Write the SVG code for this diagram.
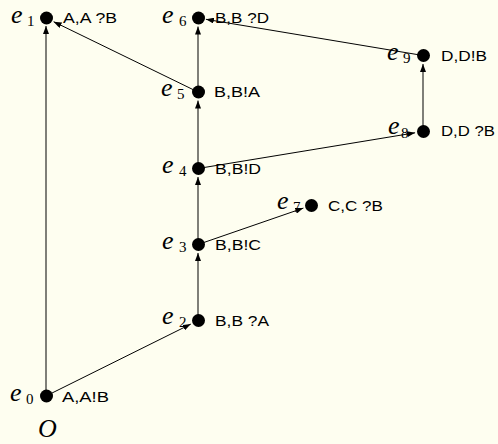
<svg xmlns="http://www.w3.org/2000/svg" width="498" height="444" viewBox="0 0 498 444">
  <defs>
    <marker id="arrow" markerUnits="userSpaceOnUse" markerWidth="8" markerHeight="6" refX="8" refY="3" orient="auto">
      <path d="M0,0 L8,3 L0,6 Z" fill="#000"/>
    </marker>
    <style>
      .edge { stroke: #000; stroke-width: 1; fill: none; marker-end: url(#arrow); }
      .dot { fill: #000; }
      .lbl { font-family: "Liberation Sans", Arial, sans-serif; font-size: 15px; fill: #000; }
      .ev { font-family: "Liberation Serif", "Times New Roman", serif; font-style: italic; font-size: 26px; fill: #000; }
      .sub { font-family: "Liberation Serif", "Times New Roman", serif; font-style: normal; font-size: 15px; }
    </style>
  </defs>
  <rect width="498" height="444" fill="#fefef0"/>

  <!-- causal edges between events -->
  <g id="connectors">
    <line class="edge" x1="46" y1="396" x2="46" y2="26"/>
    <line class="edge" x1="46" y1="396" x2="190.8" y2="324.1"/>
    <line class="edge" x1="198" y1="320.5" x2="198" y2="253"/>
    <line class="edge" x1="198" y1="244.5" x2="198" y2="177"/>
    <line class="edge" x1="198" y1="168.5" x2="198" y2="100.5"/>
    <line class="edge" x1="198" y1="92" x2="198" y2="26.5"/>
    <line class="edge" x1="198" y1="92" x2="53.6" y2="21.7"/>
    <line class="edge" x1="198" y1="244.5" x2="303.4" y2="208.1"/>
    <line class="edge" x1="198" y1="168.5" x2="415.1" y2="132.8"/>
    <line class="edge" x1="423" y1="131.5" x2="423" y2="64"/>
    <line class="edge" x1="423" y1="55.5" x2="205.9" y2="19.3"/>
  </g>

  <g id="e0">
    <circle class="dot" cx="46.5" cy="396" r="6.5"/>
    <text class="ev" x="10" y="400.5">e<tspan class="sub" x="26" dy="3">0</tspan></text>
    <text class="lbl" x="62" y="402" textLength="47" lengthAdjust="spacingAndGlyphs">A,A!B</text>
  </g>
  <g id="e1">
    <circle class="dot" cx="46.5" cy="18" r="6.5"/>
    <text class="ev" x="11" y="22.5">e<tspan class="sub" x="27" dy="3">1</tspan></text>
    <text class="lbl" x="63" y="23" textLength="54" lengthAdjust="spacingAndGlyphs">A,A ?B</text>
  </g>
  <g id="e2">
    <circle class="dot" cx="198.5" cy="320.5" r="6.5"/>
    <text class="ev" x="162" y="323.5">e<tspan class="sub" x="179" dy="3">2</tspan></text>
    <text class="lbl" x="215" y="325.5" textLength="54" lengthAdjust="spacingAndGlyphs">B,B ?A</text>
  </g>
  <g id="e3">
    <circle class="dot" cx="198.5" cy="244.5" r="6.5"/>
    <text class="ev" x="162" y="248.5">e<tspan class="sub" x="179" dy="3">3</tspan></text>
    <text class="lbl" x="215" y="249.5" textLength="46" lengthAdjust="spacingAndGlyphs">B,B!C</text>
  </g>
  <g id="e4">
    <circle class="dot" cx="198.5" cy="168.5" r="6.5"/>
    <text class="ev" x="162" y="173">e<tspan class="sub" x="179" dy="3">4</tspan></text>
    <text class="lbl" x="215" y="173.5" textLength="46" lengthAdjust="spacingAndGlyphs">B,B!D</text>
  </g>
  <g id="e5">
    <circle class="dot" cx="198.5" cy="92" r="6.5"/>
    <text class="ev" x="161" y="96">e<tspan class="sub" x="177" dy="3">5</tspan></text>
    <text class="lbl" x="214" y="97" textLength="46" lengthAdjust="spacingAndGlyphs">B,B!A</text>
  </g>
  <g id="e6">
    <circle class="dot" cx="198.5" cy="18" r="6.5"/>
    <text class="ev" x="162" y="22.5">e<tspan class="sub" x="179" dy="3">6</tspan></text>
    <text class="lbl" x="215" y="23" textLength="54" lengthAdjust="spacingAndGlyphs">B,B ?D</text>
  </g>
  <g id="e7">
    <circle class="dot" cx="311.5" cy="205.5" r="6.5"/>
    <text class="ev" x="277" y="208.5">e<tspan class="sub" x="293" dy="3">7</tspan></text>
    <text class="lbl" x="328" y="210.5" textLength="55" lengthAdjust="spacingAndGlyphs">C,C ?B</text>
  </g>
  <g id="e8">
    <circle class="dot" cx="423.5" cy="131.5" r="6.5"/>
    <text class="ev" x="388" y="133.5">e<tspan class="sub" x="401" dy="4">8</tspan></text>
    <text class="lbl" x="441" y="136" textLength="54" lengthAdjust="spacingAndGlyphs">D,D ?B</text>
  </g>
  <g id="e9">
    <circle class="dot" cx="423.5" cy="55.5" r="6.5"/>
    <text class="ev" x="387" y="59.5">e<tspan class="sub" x="403" dy="3">9</tspan></text>
    <text class="lbl" x="441" y="60.5" textLength="46" lengthAdjust="spacingAndGlyphs">D,D!B</text>
  </g>

  <!-- origin -->
  <text class="ev" x="38" y="437" font-size="21">O</text>
</svg>
